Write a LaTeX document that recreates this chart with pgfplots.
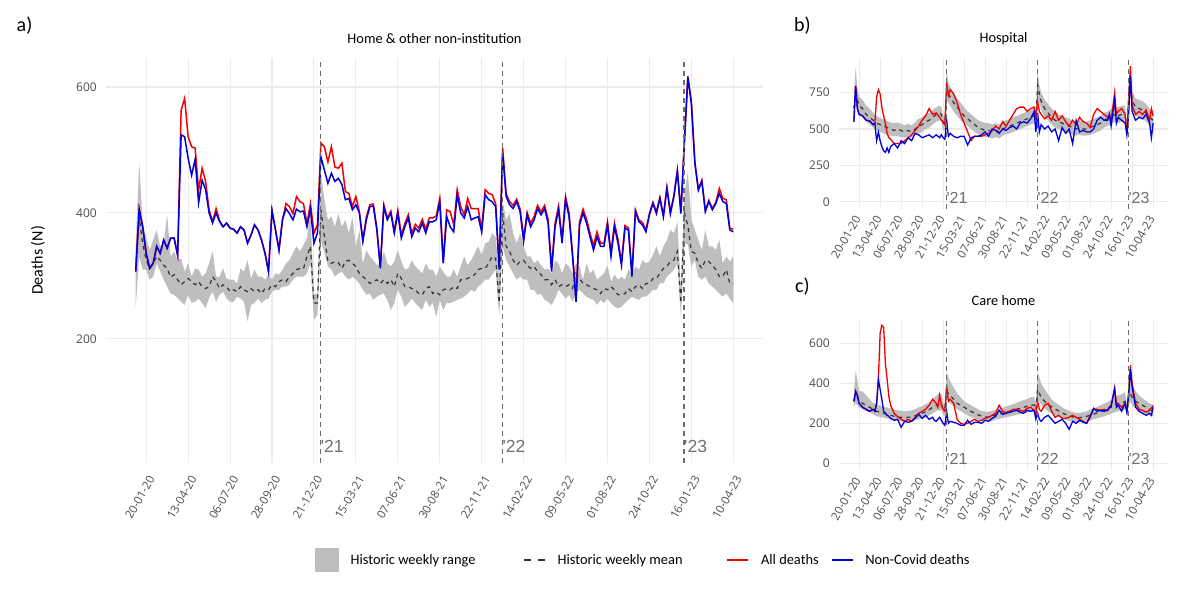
\documentclass[border=0pt]{standalone}
\usepackage{fontspec}
\setmainfont{Carlito}
\newfontfamily\tickfont{Open Sans}
\newfontfamily\yrfont{Liberation Sans}
\usepackage{pgfplots}
\pgfplotsset{compat=1.18}
\usepackage{pgfplotstable}
\usepgfplotslibrary{fillbetween}
\newcommand{\fs}[1]{\fontsize{#1}{#1}\selectfont}
\definecolor{bandgray}{HTML}{BEBEBE}
\definecolor{gridgray}{HTML}{EBEBEB}
\definecolor{ticktext}{HTML}{4D4D4D}
\definecolor{allred}{HTML}{F20000}
\definecolor{ncblue}{HTML}{0000DD}
\definecolor{vlinegray}{HTML}{6B6B6B}
\definecolor{yrgray}{HTML}{707070}
\definecolor{meangray}{HTML}{333333}

% week (0 = 20-01-20), historic min, historic max, historic mean, all deaths, non-Covid deaths
\pgfplotstableread{
w lo hi mean all nc
-3 251 347 310 307 307
-2 331 480 392 406 406
-1 310 384 352 378 378
0 310 360 325 336 336
1 294 341 312 312 312
2 299 357 320 320 320
3 320 373 331 347 347
4 307 347 325 336 336
5 294 349 317 357 357
6 283 397 312 344 344
7 272 331 298 360 360
8 270 339 302 360 360
9 265 325 294 333 333
10 259 328 286 563 524
11 254 307 291 582 521
12 270 320 296 521 487
13 257 299 291 505 460
14 259 312 286 503 485
15 264 310 291 436 416
16 257 299 283 471 452
17 249 304 280 450 437
18 265 320 283 405 400
19 275 339 299 386 384
20 259 299 291 407 400
21 270 299 280 388 386
22 275 312 286 378 378
23 264 296 283 384 384
24 259 294 275 376 376
25 259 294 278 374 374
26 267 288 275 368 368
27 264 312 283 378 378
28 259 307 278 373 373
29 228 325 275 352 352
30 254 296 280 365 365
31 257 310 275 381 381
32 264 299 278 373 373
33 257 299 272 357 357
34 262 294 280 336 336
35 264 302 278 307 307
36 275 294 286 404 404
37 278 304 283 373 373
38 278 302 291 341 341
39 283 310 294 389 389
40 283 320 291 415 407
41 286 325 299 410 399
42 294 336 304 399 389
43 299 347 310 426 406
44 299 339 312 418 402
45 299 349 311 415 403
46 304 360 331 383 378
47 320 399 347 415 406
48 230 272 257 368 352
49 238 272 257 381 368
50 357 463 405 511 489
51 336 421 362 505 468
52 315 389 323 481 447
53 310 394 320 505 463
54 299 378 323 473 450
55 304 399 321 471 455
56 307 378 312 479 445
57 299 389 323 434 421
58 294 368 325 431 423
59 299 394 320 410 405
60 294 347 315 426 413
61 288 373 304 402 400
62 278 320 299 357 355
63 270 341 294 394 389
64 272 331 288 413 410
65 262 325 291 414 411
66 267 317 294 376 373
67 270 320 288 315 312
68 272 339 294 413 410
69 262 320 288 392 389
70 246 315 294 403 400
71 257 323 283 371 368
72 278 341 304 404 400
73 267 323 296 365 360
74 251 310 283 383 378
75 257 312 283 397 392
76 264 325 280 368 362
77 257 315 278 382 376
78 251 310 272 376 370
79 246 304 270 390 384
80 262 320 280 374 368
81 251 310 283 392 386
82 257 310 272 392 386
83 235 299 275 395 389
84 262 315 270 423 418
85 246 307 278 323 320
86 257 299 280 405 394
87 257 299 278 402 378
88 259 310 283 381 370
89 262 299 280 437 429
90 264 315 294 410 400
91 267 331 294 397 392
92 272 317 296 423 410
93 278 325 299 407 389
94 275 336 302 407 392
95 283 347 310 407 394
96 288 333 312 373 370
97 294 352 312 437 429
98 294 354 320 431 421
99 302 368 331 429 418
100 310 362 328 415 410
101 235 299 257 320 310
102 347 420 400 503 495
103 325 389 347 430 426
104 315 399 339 418 413
105 304 368 325 412 407
106 294 352 317 422 418
107 299 368 323 406 402
108 294 347 325 360 355
109 294 331 317 401 397
110 278 331 312 384 378
111 278 320 315 394 389
112 270 325 307 412 407
113 272 317 302 402 397
114 262 310 294 412 407
115 259 312 294 390 384
116 254 304 286 312 307
117 264 325 294 384 378
118 278 320 283 411 405
119 272 304 286 358 352
120 264 320 283 426 421
121 270 315 286 400 394
122 259 304 280 336 331
123 272 320 304 262 259
124 278 315 296 386 381
125 272 294 288 406 400
126 267 320 286 390 384
127 264 304 283 368 362
128 262 310 280 348 341
129 254 294 278 370 362
130 262 299 272 352 347
131 257 304 280 352 347
132 264 317 278 386 381
133 257 291 283 337 331
134 251 302 278 384 378
135 249 294 270 358 352
136 251 299 270 322 317
137 257 294 272 380 376
138 262 310 280 376 373
139 267 304 275 303 299
140 264 315 283 405 402
141 262 310 286 389 386
142 267 325 280 385 381
143 267 320 288 373 370
144 272 323 288 399 397
145 278 333 296 417 415
146 278 347 296 402 399
147 288 331 304 425 423
148 288 347 312 396 394
149 299 357 315 441 439
150 304 373 323 401 399
151 310 368 325 428 426
152 320 386 339 468 466
153 235 278 257 401 399
154 352 431 400 513 511
155 350 465 380 617 615
156 315 389 339 576 574
157 325 373 336 481 479
158 299 357 320 438 436
159 294 341 312 452 450
160 299 373 325 404 402
161 288 347 323 420 418
162 283 347 317 407 405
163 278 341 310 417 415
164 272 357 299 439 431
165 267 320 299 423 418
166 272 331 310 421 415
167 264 323 288 376 373
168 257 331 288 374 370
}\homedata

\pgfplotstableread{
w lo hi mean all nc
-3 580 720 640 551 551
-2 700 920 780 795 795
-1 620 780 700 640 640
0 600 720 660 600 600
2 580 700 640 590 590
4 550 660 600 560 560
6 530 640 580 555 555
8 510 610 560 530 530
9 500 600 550 540 540
10 490 590 540 720 420
11 490 580 535 770 480
12 480 575 530 740 420
13 475 570 525 650 380
14 470 565 520 590 350
15 465 560 515 540 340
16 460 555 510 470 370
17 455 550 505 440 340
18 455 545 500 430 380
20 450 540 490 400 400
22 450 545 500 400 370
24 445 535 490 400 420
26 440 525 480 420 400
28 445 535 490 440 440
30 440 525 480 460 420
32 455 545 500 490 470
34 470 570 520 520 460
36 480 580 530 560 440
38 500 600 550 590 450
40 510 610 560 640 460
42 530 630 580 600 440
44 550 650 600 610 460
46 560 660 610 580 440
47 550 650 600 560 460
48 490 590 540 550 440
49 490 590 540 530 430
50 700 900 760 820 560
51 680 820 740 730 450
52 660 790 720 770 470
54 620 750 680 740 450
56 590 710 650 680 440
58 560 680 620 600 450
60 540 650 590 540 450
62 520 620 570 480 390
64 500 600 550 420 440
66 480 580 530 450 450
68 465 560 510 450 450
70 455 550 500 450 460
72 445 540 490 460 480
74 445 540 490 470 450
76 435 530 480 490 500
78 445 540 490 520 490
80 435 530 480 500 470
82 455 550 500 550 500
84 465 560 510 520 490
86 470 570 520 560 510
88 480 580 530 600 520
90 490 590 540 640 500
92 500 600 550 650 540
94 510 610 560 650 550
96 520 620 570 620 540
98 530 630 580 640 570
100 540 640 590 650 620
101 510 610 560 580 480
102 700 900 800 690 610
103 680 800 740 620 480
104 630 750 690 600 530
106 580 700 640 570 500
108 560 670 610 590 520
110 530 640 580 560 480
112 510 620 560 620 500
114 500 600 550 560 420
116 490 590 540 590 510
118 480 580 530 550 470
120 470 570 520 520 500
122 460 560 510 560 400
124 455 550 500 530 560
126 460 560 510 580 480
128 455 550 500 550 490
130 455 550 500 540 480
132 460 560 510 510 480
134 470 570 520 600 500
136 480 580 530 640 560
138 490 590 540 620 580
140 510 610 560 600 560
142 520 620 570 580 560
143 525 630 575 600 600
144 530 640 580 560 520
146 550 660 600 750 700
147 545 650 595 600 540
148 540 650 590 620 580
150 550 660 600 640 560
152 550 660 600 600 540
153 430 520 470 470 460
154 640 800 720 700 600
155 760 900 840 930 860
156 620 760 690 660 620
158 590 710 650 600 560
160 580 700 640 620 580
162 570 690 630 600 570
164 550 670 610 630 600
166 520 640 580 560 540
167 510 620 570 640 440
168 500 610 560 590 540
}\hospdata

\pgfplotstableread{
w lo hi mean all nc
-3 280 360 310 310 310
-2 300 460 340 360 360
-1 290 420 330 340 340
0 280 360 310 300 300
2 270 360 300 280 280
4 260 340 290 270 270
6 255 320 280 260 260
8 245 300 270 270 270
9 240 300 265 260 260
10 235 295 260 300 300
11 235 290 258 420 420
12 230 290 255 650 370
13 230 285 252 690 320
14 228 285 250 680 260
15 225 280 248 500 250
16 225 280 245 420 240
17 222 275 243 333 235
18 220 275 240 290 225
20 215 270 235 250 215
22 212 265 232 233 220
24 210 262 230 220 180
26 208 260 228 210 210
28 210 262 230 220 205
30 212 265 232 210 210
32 215 270 238 230 225
34 220 280 245 250 245
36 225 285 250 260 225
38 230 295 258 270 240
40 240 305 268 290 220
42 250 320 280 320 230
43 255 330 285 310 215
44 260 335 290 300 210
45 265 345 295 280 220
46 265 350 300 340 230
47 265 350 300 290 215
48 240 300 270 270 200
49 240 300 268 260 190
50 320 460 360 390 260
51 310 430 350 310 200
52 300 410 340 320 210
54 285 380 320 300 205
56 270 350 300 220 200
58 260 330 290 200 190
60 250 310 280 195 190
62 240 300 270 200 215
64 232 290 260 210 195
66 225 280 250 220 205
68 218 270 242 210 205
70 212 262 236 215 200
72 210 258 232 225 215
74 210 258 232 230 210
76 212 262 236 240 225
78 218 268 242 250 235
80 222 272 246 290 265
82 226 278 250 260 245
84 230 284 255 255 250
86 234 290 260 260 255
88 238 296 265 270 260
90 242 302 270 270 265
92 246 310 275 265 255
94 250 316 280 260 250
96 254 322 285 275 265
98 258 330 290 280 260
100 258 334 292 265 265
101 240 300 268 240 220
102 320 460 370 310 250
103 310 430 350 270 220
104 295 400 330 260 210
106 275 370 310 290 230
108 260 345 295 300 240
110 250 320 282 260 220
112 242 305 272 230 200
114 234 292 262 240 210
116 226 280 252 225 220
118 218 270 244 225 200
120 212 262 238 230 170
122 208 256 232 240 210
124 205 252 228 230 200
126 205 252 228 220 215
128 208 256 232 210 205
130 210 260 235 200 200
132 215 268 240 240 230
134 220 275 246 270 275
136 225 282 252 270 260
138 230 290 258 265 265
140 235 298 264 270 260
142 242 306 272 265 265
143 245 312 276 280 280
144 248 318 280 290 285
146 255 330 290 380 370
147 258 335 294 300 280
148 262 340 298 300 290
150 265 345 302 280 260
152 270 355 310 300 300
153 240 290 260 260 255
154 290 420 330 350 340
155 310 470 350 490 470
156 290 400 330 400 380
158 275 360 310 300 280
160 265 340 300 270 260
162 255 325 290 265 250
164 248 312 280 255 240
166 242 300 270 265 250
167 238 295 265 275 240
168 235 290 262 290 280
}\caredata

\pgfplotsset{
  panel/.style={
    scale only axis,
    anchor=south west,
    xmin=-11.5, xmax=176.5,
    enlargelimits=false,
    axis line style={draw=none},
    major tick length=0pt,
    grid=major,
    major grid style={draw=gridgray, line width=1.1pt},
    xtick={0,12,...,168},
    xticklabels={20-01-20,13-04-20,06-07-20,28-09-20,21-12-20,15-03-21,07-06-21,30-08-21,22-11-21,14-02-22,09-05-22,01-08-22,24-10-22,16-01-23,10-04-23},
    /pgf/number format/assume math mode=true,
    tick label style={text=ticktext},
    x tick label style={font=\tickfont\fs{11.5}, anchor=east, inner sep=0pt},
    y tick label style={font=\tickfont\fs{12}, anchor=east, inner sep=0pt, xshift=-9pt},
    title style={font=\fs{14.4}, anchor=center, at={(axis description cs:0.5,1)}, yshift=13pt},
  },
  bandstyle/.style={fill=bandgray, draw=none},
  meanstyle/.style={meangray, line width=1.2pt, dash pattern=on 4pt off 4pt},
  allstyle/.style={allred, line width=#1},
  ncstyle/.style={ncblue, line width=#1},
  yrline/.style={vlinegray, line width=1.1pt, dash pattern=on 5pt off 4pt},
}

\begin{document}
\begin{tikzpicture}[x=1pt,y=1pt]
\path (0,0) rectangle (1200,600);

% ---------- panel a ----------
\begin{axis}[panel,
  at={(106pt,137pt)}, width=657pt, height=405pt,
  ymin=3, ymax=646, ytick={200,400,600},
  x tick label style={xshift=5.5pt, yshift=-14pt, rotate=60},
  title={Home \& other non-institution},
  ylabel={Deaths (N)},
  ylabel style={font=\fs{16}, at={(axis description cs:-0.1035,0.5)}, anchor=center},
  legend columns=4,
  legend style={at={(axis description cs:0.3181,-0.2395)}, anchor=west, draw=none, fill=none,
    inner sep=0pt, font=\fs{14.4}, nodes={inner sep=0pt},
    /tikz/every odd column/.append style={column sep=12pt},
    /tikz/every even column/.append style={column sep=12pt}},
  legend cell align=left,
]
\addplot[name path=ahi, draw=none, forget plot] table[x=w,y=hi]{\homedata};
\addplot[name path=alo, draw=none, forget plot] table[x=w,y=lo]{\homedata};
\addplot[bandstyle, forget plot] fill between[of=ahi and alo];
\addplot[meanstyle, forget plot] table[x=w,y=mean]{\homedata};
\addplot[allstyle=1.5pt, forget plot] table[x=w,y=all]{\homedata};
\addplot[ncstyle=1.5pt, forget plot] table[x=w,y=nc]{\homedata};
\addplot[yrline, forget plot] coordinates {(49.9,3) (49.9,646)};
\addplot[yrline, forget plot] coordinates {(101.9,3) (101.9,646)};
\addplot[yrline, forget plot] coordinates {(153.9,3) (153.9,646)};
\node[anchor=base west, inner sep=0pt, font=\yrfont\fs{17.5}, text=yrgray] at (axis cs:49.9,19.5) {\textquotesingle 21};
\node[anchor=base west, inner sep=0pt, font=\yrfont\fs{17.5}, text=yrgray] at (axis cs:101.9,19.5) {\textquotesingle 22};
\node[anchor=base west, inner sep=0pt, font=\yrfont\fs{17.5}, text=yrgray] at (axis cs:153.9,19.5) {\textquotesingle 23};
\addlegendimage{legend image code/.code={\fill[bandgray] (0pt,-11.5pt) rectangle (23pt,11.5pt);}}
\addlegendentry{Historic weekly range\rule{36pt}{0pt}}
\addlegendimage{legend image code/.code={\draw[meangray, line width=1.2pt, dash pattern=on 7pt off 7pt] (0pt,0pt) -- (21pt,0pt);}}
\addlegendentry{Historic weekly mean\rule{32pt}{0pt}}
\addlegendimage{legend image code/.code={\draw[allred, line width=1.5pt] (0pt,0pt) -- (21pt,0pt);}}
\addlegendentry{All deaths}
\addlegendimage{legend image code/.code={\draw[ncblue, line width=1.5pt] (0pt,0pt) -- (21pt,0pt);}}
\addlegendentry{Non-Covid deaths}
\end{axis}

% ---------- panel b ----------
\begin{axis}[panel,
  at={(839pt,391.2pt)}, width=329pt, height=150.7pt,
  ymin=-47, ymax=986, ytick={0,250,500,750},
  x tick label style={xshift=-1.5pt, yshift=-8pt, rotate=60},
  title={Hospital},
]
\addplot[name path=bhi, draw=none] table[x=w,y=hi]{\hospdata};
\addplot[name path=blo, draw=none] table[x=w,y=lo]{\hospdata};
\addplot[bandstyle] fill between[of=bhi and blo];
\addplot[meanstyle] table[x=w,y=mean]{\hospdata};
\addplot[allstyle=1.3pt] table[x=w,y=all]{\hospdata};
\addplot[ncstyle=1.3pt] table[x=w,y=nc]{\hospdata};
\addplot[yrline] coordinates {(49.9,-47) (49.9,986)};
\addplot[yrline] coordinates {(101.9,-47) (101.9,986)};
\addplot[yrline] coordinates {(153.9,-47) (153.9,986)};
\node[anchor=base west, inner sep=0pt, font=\yrfont\fs{16}, text=yrgray] at (axis cs:49.9,-12) {\textquotesingle 21};
\node[anchor=base west, inner sep=0pt, font=\yrfont\fs{16}, text=yrgray] at (axis cs:101.9,-12) {\textquotesingle 22};
\node[anchor=base west, inner sep=0pt, font=\yrfont\fs{16}, text=yrgray] at (axis cs:153.9,-12) {\textquotesingle 23};
\end{axis}

% ---------- panel c ----------
\begin{axis}[panel,
  at={(839pt,129.7pt)}, width=329pt, height=151pt,
  ymin=-35, ymax=720, ytick={0,200,400,600},
  x tick label style={xshift=-1.5pt, yshift=-8pt, rotate=60},
  title={Care home},
]
\addplot[name path=chi, draw=none] table[x=w,y=hi]{\caredata};
\addplot[name path=clo, draw=none] table[x=w,y=lo]{\caredata};
\addplot[bandstyle] fill between[of=chi and clo];
\addplot[meanstyle] table[x=w,y=mean]{\caredata};
\addplot[allstyle=1.3pt] table[x=w,y=all]{\caredata};
\addplot[ncstyle=1.3pt] table[x=w,y=nc]{\caredata};
\addplot[yrline] coordinates {(49.9,-35) (49.9,720)};
\addplot[yrline] coordinates {(101.9,-35) (101.9,720)};
\addplot[yrline] coordinates {(153.9,-35) (153.9,720)};
\node[anchor=base west, inner sep=0pt, font=\yrfont\fs{16}, text=yrgray] at (axis cs:49.9,-4) {\textquotesingle 21};
\node[anchor=base west, inner sep=0pt, font=\yrfont\fs{16}, text=yrgray] at (axis cs:101.9,-4) {\textquotesingle 22};
\node[anchor=base west, inner sep=0pt, font=\yrfont\fs{16}, text=yrgray] at (axis cs:153.9,-4) {\textquotesingle 23};
\end{axis}

\node[font=\fs{20}] at (24.5,574.5) {a)};
\node[font=\fs{20}] at (802.5,574.5) {b)};
\node[font=\fs{20}] at (802.5,313.5) {c)};
\end{tikzpicture}
\end{document}
